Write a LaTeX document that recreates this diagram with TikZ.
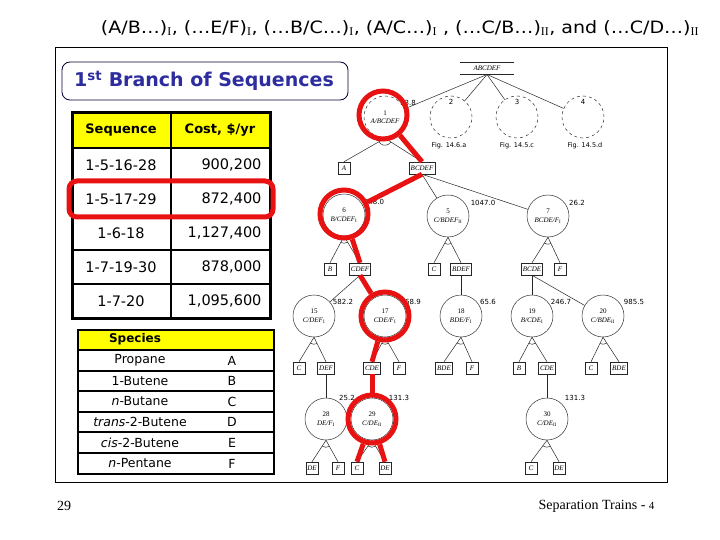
\documentclass[tikz,border=0pt]{standalone}
\usepackage{fontspec}
\setmainfont{DejaVu Sans}
\newfontfamily\serifrm{Liberation Serif}
\newfontfamily\titlefont[FakeStretch=1.12]{DejaVu Sans}
\usetikzlibrary{calc}
\definecolor{hlred}{RGB}{232,18,18}
\definecolor{titleblue}{RGB}{45,45,160}
\definecolor{hdryellow}{RGB}{255,255,0}
\tikzset{
  col/.style={circle,draw=black!80,line width=0.5pt,minimum size=42pt,inner sep=0pt,align=center,font=\serifrm\fontsize{7}{8.5}\selectfont},
  dcol/.style={col,dashed},
  prod/.style={draw=black!85,line width=0.5pt,inner sep=1.5pt,minimum height=12pt,minimum width=12pt,font=\serifrm\itshape\fontsize{7}{7}\selectfont},
  cost/.style={font=\fontsize{7}{7}\selectfont},
  figl/.style={font=\fontsize{6.5}{6.5}\selectfont},
  link/.style={line width=0.5pt,draw=black!85},
  hl/.style={draw=hlred,line width=5pt},
  hlc/.style={circle,hl,minimum size=48pt,inner sep=0pt},
  seqt/.style={font=\fontsize{14.5}{14.5}\selectfont},
  hdrt/.style={font=\bfseries\fontsize{13}{13}\selectfont},
  spt/.style={font=\fontsize{12.5}{12.5}\selectfont},
}
\newcommand\andarc[3]{%
  \draw[link] (#1.south) -- (#2.north);
  \draw[link] (#1.south) -- (#3.north);
  \draw[link] let \p0=(#1.south), \p1=($(#2.north)-(#1.south)$), \p2=($(#3.north)-(#1.south)$),
     \n1={atan2(\y1,\x1)}, \n2={atan2(\y2,\x2)} in
     ($(\p0)+(\n1:7pt)$) arc[start angle=\n1, end angle=\n2, radius=7pt];
}
\begin{document}
\begin{tikzpicture}[x=1pt,y=-1pt]
\useasboundingbox (0,0) rectangle (720,540);
\fill[white] (0,0) rectangle (720,540);

% title
\node (title) at (400,28) {\titlefont\fontsize{17}{17}\selectfont (A/B…)\textsubscript{\serifrm I}, (…E/F)\textsubscript{\serifrm I}, (…B/C…)\textsubscript{\serifrm I}, (A/C…)\textsubscript{\serifrm I} , (…C/B…)\textsubscript{\serifrm II}, and (…C/D…)\textsubscript{\serifrm II}};

% frame
\draw[line width=1pt] (55,48) rectangle (667,482);

% branch title box
\draw[draw=black!80!blue,line width=0.8pt,rounded corners=8pt] (62,62) rectangle (348,100);
\node[text=titleblue,font=\bfseries\fontsize{19}{19}\selectfont] (branch) at (204,81) {1\textsuperscript{st} Branch of Sequences};

% sequence table
\fill[hdryellow] (72,113) rectangle (270,148);
\draw[line width=2pt] (72,148) -- (270,148) (72,182) -- (270,182) (72,216) -- (270,216) (72,250) -- (270,250) (72,284) -- (270,284) (171,113) -- (171,318);
\draw[line width=3pt] (72,113) rectangle (270,318);
\node[hdrt] (hseq) at (121,130) {Sequence};
\node[hdrt] (hcost) at (220,130) {Cost, \$/yr};
\node[seqt] (s1) at (121,165) {1-5-16-28};
\node[seqt] (s2) at (121,199) {1-5-17-29};
\node[seqt] (s3) at (121,233) {1-6-18};
\node[seqt] (s4) at (121,267) {1-7-19-30};
\node[seqt] (s5) at (121,301) {1-7-20};
\node[seqt,anchor=east] (k1) at (265,165) {900,200};
\node[seqt,anchor=east] (k2) at (265,199) {872,400};
\node[seqt,anchor=east] (k3) at (265,233) {1,127,400};
\node[seqt,anchor=east] (k4) at (265,267) {878,000};
\node[seqt,anchor=east] (k5) at (265,301) {1,095,600};
\draw[hl,rounded corners=8pt] (69,181) rectangle (273,217);

% species table
\fill[hdryellow] (78,330) rectangle (274,350);
\draw[line width=1.5pt] (78,350) -- (274,350) (78,371) -- (274,371) (78,391) -- (274,391) (78,412) -- (274,412) (78,432) -- (274,432) (78,453) -- (274,453);
\draw[line width=2.5pt] (78,330) rectangle (274,474);
\node[font=\bfseries\fontsize{12}{12}\selectfont] (hsp) at (135,339.5) {Species};
\node[spt] (p1) at (140,360.5) {Propane};
\node[spt] (p2) at (140,381) {1-Butene};
\node[spt] (p3) at (140,401.5) {\textit{n}-Butane};
\node[spt] (p4) at (140,422) {\textit{trans}-2-Butene};
\node[spt] (p5) at (140,442.5) {\textit{cis}-2-Butene};
\node[spt] (p6) at (140,463.5) {\textit{n}-Pentane};
\node[spt] (l1) at (232,360.5) {A};
\node[spt] (l2) at (232,381) {B};
\node[spt] (l3) at (232,401.5) {C};
\node[spt] (l4) at (232,422) {D};
\node[spt] (l5) at (232,442.5) {E};
\node[spt] (l6) at (232,463.5) {F};

% footer
\node[font=\serifrm\fontsize{14}{14}\selectfont] (pg) at (64,506) {29};
\node[font=\serifrm\fontsize{14}{14}\selectfont,anchor=east] (foot) at (658,506) {Separation Trains - {\fontsize{11}{11}\selectfont 4}};

% ---------- tree ----------
\node[prod,draw=none,inner sep=0pt] (root) at (487,68) {ABCDEF};
\draw[link] (460,62) -- (514,62) (460,74.5) -- (514,74.5);
\coordinate (rootb) at (487,74.5);

\node[dcol] (c1) at (385,117) {1\\\textit{A/BCDEF}};
\node[dcol,label={[label distance=-12pt,font=\fontsize{7}{7}\selectfont]90:2}] (c2) at (451,117) {};
\node[dcol,label={[label distance=-12pt,font=\fontsize{7}{7}\selectfont]90:3}] (c3) at (517,117) {};
\node[dcol,label={[label distance=-12pt,font=\fontsize{7}{7}\selectfont]90:4}] (c4) at (583,117) {};
\node[figl] (f2) at (449,146) {Fig. 14.6.a};
\node[figl] (f3) at (517,146) {Fig. 14.5.c};
\node[figl] (f4) at (585,146) {Fig. 14.5.d};
\node[cost] (k1c) at (408,103) {13.8};
\foreach \c in {c1,c2,c3,c4} \draw[link] (rootb) -- (\c);

\node[prod] (bA) at (344,168) {A};
\node[prod] (bBCDEF) at (422,168) {BCDEF};
\andarc{c1}{bA}{bBCDEF}

\node[col] (c6) at (344,215) {6\\\textit{B/CDEF}\textsubscript{I}};
\node[col] (c5) at (448,216) {5\\\textit{C/BDEF}\textsubscript{II}};
\node[col] (c7) at (548,216) {7\\\textit{BCDE/F}\textsubscript{I}};
\node[cost] (k6) at (374,202) {948.0};
\node[cost] (k5) at (483,203) {1047.0};
\node[cost] (k7) at (577,203) {26.2};
\foreach \c in {c6,c5,c7} \draw[link] (bBCDEF.south) -- (\c);

\node[prod] (bB) at (330,269) {B};
\node[prod] (bCDEF) at (360,269) {CDEF};
\node[prod] (bC5) at (434,269) {C};
\node[prod] (bBDEF) at (461,269) {BDEF};
\node[prod] (bBCDE) at (532,269) {BCDE};
\node[prod] (bF7) at (560,269) {F};
\andarc{c6}{bB}{bCDEF}
\andarc{c5}{bC5}{bBDEF}
\andarc{c7}{bBCDE}{bF7}

\node[col] (c15) at (314,316) {15\\\textit{C/DEF}\textsubscript{I}};
\node[col] (c17) at (385,316) {17\\\textit{CDE/F}\textsubscript{I}};
\node[col] (c18) at (461,316) {18\\\textit{BDE/F}\textsubscript{I}};
\node[col] (c19) at (532,316) {19\\\textit{B/CDE}\textsubscript{I}};
\node[col] (c20) at (603,316) {20\\\textit{C/BDE}\textsubscript{II}};
\node[cost] (k15) at (343,302) {582.2};
\node[cost] (k17) at (413,302) {68.9};
\node[cost] (k18) at (488,302) {65.6};
\node[cost] (k19) at (561,302) {246.7};
\node[cost] (k20) at (634,302) {985.5};
\draw[link] (bCDEF.south) -- (c15);
\draw[link] (bCDEF.south) -- (c17);
\draw[link] (bBDEF.south) -- (c18.north);
\draw[link] (bBCDE.south) -- (c19.north);
\draw[link] (bBCDE.south) -- (c20);

\node[prod] (bC15) at (299,368) {C};
\node[prod] (bDEF) at (326,368) {DEF};
\node[prod] (bCDE17) at (372,368) {CDE};
\node[prod] (bF17) at (399,368) {F};
\node[prod] (bBDE18) at (444,368) {BDE};
\node[prod] (bF18) at (472,368) {F};
\node[prod] (bB19) at (519,368) {B};
\node[prod] (bCDE19) at (547,368) {CDE};
\node[prod] (bC20) at (591,368) {C};
\node[prod] (bBDE20) at (619,368) {BDE};
\andarc{c15}{bC15}{bDEF}
\andarc{c17}{bCDE17}{bF17}
\andarc{c18}{bBDE18}{bF18}
\andarc{c19}{bB19}{bCDE19}
\andarc{c20}{bC20}{bBDE20}

\node[col] (c28) at (326,419) {28\\\textit{DE/F}\textsubscript{I}};
\node[col] (c29) at (372,419) {29\\\textit{C/DE}\textsubscript{II}};
\node[col] (c30) at (547,419) {30\\\textit{C/DE}\textsubscript{II}};
\node[cost] (k28) at (347,398) {25.2};
\node[cost] (k29) at (399,398) {131.3};
\node[cost] (k30) at (575,398) {131.3};
\draw[link] (bDEF.south) -- (c28.north);
\draw[link] (bCDE17.south) -- (c29.north);
\draw[link] (bCDE19.south) -- (c30.north);

\node[prod] (bDE28) at (312,468) {DE};
\node[prod] (bF28) at (338,468) {F};
\node[prod] (bC29) at (357,468) {C};
\node[prod] (bDE29) at (385,468) {DE};
\node[prod] (bC30) at (531,468) {C};
\node[prod] (bDE30) at (559,468) {DE};
\andarc{c28}{bDE28}{bF28}
\andarc{c29}{bC29}{bDE29}
\andarc{c30}{bC30}{bDE30}

% ---------- red highlight path ----------
\node[hlc] (r1) at (383,115) {};
\node[hlc] (r6) at (344,214) {};
\node[hlc] (r17) at (385,316) {};
\node[hlc] (r29) at (372,419) {};
\draw[hl] (r1) -- (bBCDEF.north);
\draw[hl] (bBCDEF.south) -- (r6);
\draw[hl] (r6) -- (bCDEF.north);
\draw[hl] (bCDEF.south) -- (r17);
\draw[hl] (r17) -- (bCDE17.north);
\draw[hl] (bCDE17.south) -- (r29);
\draw[hl] (r29) -- (bC29.north);
\draw[hl] (r29) -- (bDE29.north);
\end{tikzpicture}
\end{document}
